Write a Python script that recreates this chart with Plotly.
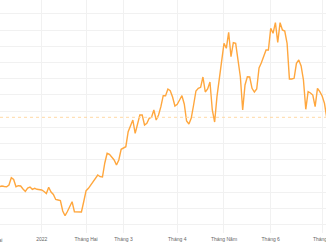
import plotly.graph_objects as go

# Daily closing values (trading days)
values = [
    63.3, 64.0, 63.5, 63.3, 65.0, 72.3, 70.5, 63.3, 64.3, 64.0,
    61.0, 58.5, 62.0, 63.0, 60.7, 61.7, 60.7, 60.3, 60.0, 58.5,
    56.5, 62.7, 58.0, 55.5, 50.5, 50.0, 49.5, 39.0, 34.3, 38.5,
    44.0, 48.3, 38.3, 38.3, 38.3, 38.0, 48.5, 59.3, 61.7, 65.0,
    68.0, 70.5, 75.0, 73.3, 73.0, 87.0, 96.7, 95.7, 93.3, 90.0,
    85.0, 90.0, 100.7, 102.0, 103.3, 118.3, 123.5, 130.0, 116.7, 126.7,
    135.0, 135.0, 125.0, 126.7, 131.7, 132.7, 140.0, 130.0, 135.0, 143.3,
    154.3, 154.3, 161.0, 159.3, 153.0, 144.0, 145.7, 150.0, 154.3, 146.0,
    129.0, 126.0, 132.0, 145.0, 159.0, 161.7, 162.7, 173.0, 158.0, 161.0,
    168.0, 140.0, 128.0, 153.3, 172.0, 190.0, 206.7, 201.7, 217.7, 193.3,
    207.3, 206.7, 190.0, 173.3, 140.0, 165.0, 173.3, 173.0, 161.7, 158.0,
    161.0, 182.0, 187.3, 194.0, 200.0, 200.0, 221.7, 216.7, 227.3, 207.7,
    227.3, 220.0, 219.0, 206.7, 171.0, 171.0, 171.7, 186.7, 190.0, 184.0,
    170.0, 140.7, 158.3, 157.0, 155.0, 143.3, 161.7, 158.3, 154.0, 146.7,
    131.7,
]
day_index = list(range(len(values)))

# Month ticks (trading-day index of first session of month)
tick_idx = [18, 37, 53, 76, 96, 116, 138]
tick_labels = ["2022", "Tháng Hai", "Tháng 3", "Tháng 4", "Tháng Năm", "Tháng 6", "Tháng 7"]
prev_month_label = "Tháng Mười Hai"

ref_value = 132.7  # previous close reference line

W, H = 326, 245
plot_bottom = 233

fig = go.Figure()
fig.add_trace(go.Scatter(
    x=day_index, y=values, mode="lines",
    line=dict(color="#FFA73E", width=1.4),
    hoverinfo="skip", showlegend=False,
))

fig.add_hline(y=ref_value, line=dict(color="#FFD9A6", width=1, dash="dot"))

fig.add_annotation(
    text=prev_month_label, xref="paper", yref="paper",
    x=4 / W, y=-7 / plot_bottom, xanchor="right", yanchor="middle",
    showarrow=False, font=dict(size=5, color="#666666", family="Liberation Sans"),
)

fig.update_layout(
    width=W, height=H,
    margin=dict(l=0, r=0, t=0, b=H - plot_bottom, pad=0),
    paper_bgcolor="white", plot_bgcolor="white",
    showlegend=False,
    xaxis=dict(
        range=[0.16, 139.65], tickmode="array", tickvals=tick_idx, ticktext=tick_labels,
        showgrid=True, gridcolor="#F1F1F1", gridwidth=1, zeroline=False,
        showline=False, ticks="", tickfont=dict(size=5, color="#666666", family="Liberation Sans"),
        ticklabelstandoff=2, ticklabeloverflow="allow", automargin=False,
    ),
    yaxis=dict(
        range=[17, 250], tick0=25.5, dtick=16.2, showgrid=True, gridcolor="#F1F1F1",
        gridwidth=1, zeroline=False, showticklabels=False, showline=False, automargin=False,
    ),
)

fig.write_html("out.html")
